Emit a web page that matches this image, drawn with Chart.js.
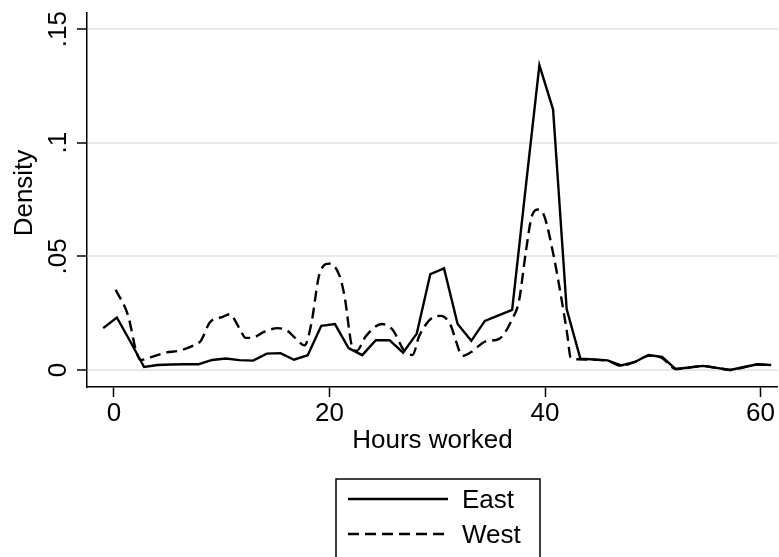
<!DOCTYPE html>
<html>
<head>
<meta charset="utf-8">
<script src="https://cdn.jsdelivr.net/npm/chart.js@4/dist/chart.umd.min.js"></script>
<style>
    html, body { margin: 0; padding: 0; background: #fff; }
    #wrap { width: 779px; height: 557px; position: relative; }
</style>
</head>
<body>
<div id="wrap"><canvas id="densityChart"></canvas></div>
<script>
// kdensity points
const eastHours = [-1.0, 0.27, 1.53, 2.80, 4.06, 5.33, 6.59, 7.86, 9.12, 10.39, 11.65, 12.92, 14.18, 15.45, 16.71, 17.98, 19.24, 20.51, 21.77, 23.04, 24.30, 25.57, 26.83, 28.10, 29.36, 30.63, 31.89, 33.16, 34.42, 35.69, 36.95, 38.22, 39.48, 40.75, 42.01, 43.28, 44.54, 45.81, 47.07, 48.34, 49.60, 50.87, 52.13, 53.40, 54.66, 55.93, 57.19, 58.46, 59.72, 60.99];
const eastDensity = [0.0184, 0.0231, 0.0124, 0.0013, 0.0022, 0.0024, 0.0025, 0.0025, 0.0044, 0.0050, 0.0043, 0.0041, 0.0072, 0.0074, 0.0045, 0.0065, 0.0194, 0.0202, 0.0096, 0.0065, 0.0131, 0.0131, 0.0076, 0.0160, 0.0422, 0.0447, 0.0202, 0.0128, 0.0216, 0.0240, 0.0264, 0.0808, 0.1342, 0.1146, 0.0268, 0.0050, 0.0046, 0.0042, 0.0020, 0.0035, 0.0066, 0.0057, 0.0004, 0.0011, 0.0018, 0.0009, 0.0000, 0.0013, 0.0025, 0.0022];

const westHours = [0.16, 1.32, 2.10, 2.50, 3.18, 4.88, 5.95, 7.50, 8.06, 8.89, 10.12, 10.74, 11.67, 12.22, 12.78, 13.98, 15.21, 16.11, 16.76, 17.69, 18.31, 19.07, 20.00, 20.93, 21.39, 22.16, 22.50, 23.40, 24.86, 25.86, 26.94, 27.71, 28.33, 29.72, 30.34, 31.27, 31.73, 32.34, 33.15, 34.51, 35.74, 36.97, 37.59, 38.21, 38.80, 39.38, 39.91, 40.83, 41.45, 42.06, 42.38, 42.84, 44.54, 45.81, 47.07, 48.34, 49.60, 50.87, 52.13, 53.40, 54.66, 55.93, 57.19, 58.46, 59.72, 60.99];
const westDensity = [0.0353, 0.0238, 0.0076, 0.0044, 0.0053, 0.0077, 0.0084, 0.0110, 0.0128, 0.0209, 0.0234, 0.0245, 0.0181, 0.0141, 0.0141, 0.0169, 0.0184, 0.0172, 0.0143, 0.0108, 0.0202, 0.0422, 0.0468, 0.0415, 0.0327, 0.0093, 0.0084, 0.0150, 0.0202, 0.0177, 0.0084, 0.0066, 0.0150, 0.0234, 0.0238, 0.0194, 0.0128, 0.0062, 0.0079, 0.0126, 0.0137, 0.0225, 0.0304, 0.0516, 0.0680, 0.0706, 0.0680, 0.0496, 0.0334, 0.0158, 0.0054, 0.0047, 0.0045, 0.0040, 0.0018, 0.0035, 0.0062, 0.0052, 0.0004, 0.0011, 0.0017, 0.0009, 0.0000, 0.0012, 0.0024, 0.0021];

const seriesNames = ['East', 'West'];
const xTickValues = [0, 20, 40, 60];
const yTickValues = [0, 0.05, 0.1, 0.15];
const yTickLabels = ['0', '.05', '.1', '.15'];
const xTitle = 'Hours worked';
const yTitle = 'Density';

const FONT = "'Liberation Sans', Arial, Helvetica, sans-serif";

function toPoints(xs, ys) {
    return xs.map((x, i) => ({ x: x, y: ys[i] }));
}

// y tick labels, y title and the boxed legend (Stata look)
const stataExtras = {
    id: 'stataExtras',
    afterDraw(chart) {
        const ctx = chart.ctx;
        const yScale = chart.scales.y;
        ctx.save();
        ctx.fillStyle = '#000';
        ctx.font = '26px ' + FONT;

        // rotated tick labels
        ctx.textAlign = 'center';
        ctx.textBaseline = 'alphabetic';
        yTickValues.forEach((v, i) => {
            const py = yScale.getPixelForValue(v);
            ctx.save();
            ctx.translate(66, py);
            ctx.rotate(-Math.PI / 2);
            ctx.fillText(yTickLabels[i], 0, 0);
            ctx.restore();
        });

        // axis title
        ctx.save();
        ctx.translate(32, 193);
        ctx.rotate(-Math.PI / 2);
        ctx.fillText(yTitle, 0, 0);
        ctx.restore();

        // legend box
        const box = { left: 336, top: 479, right: 540, bottom: 580 };
        ctx.lineWidth = 1.5;
        ctx.strokeStyle = '#000';
        ctx.setLineDash([]);
        ctx.strokeRect(box.left, box.top, box.right - box.left, box.bottom - box.top);

        ctx.textAlign = 'left';
        chart.data.datasets.forEach((ds, i) => {
            const ly = 499 + i * 35;
            ctx.beginPath();
            ctx.setLineDash(ds.borderDash || []);
            ctx.lineWidth = ds.borderWidth;
            ctx.moveTo(348, ly);
            ctx.lineTo(448, ly);
            ctx.stroke();
            ctx.setLineDash([]);
            ctx.fillText(ds.label, 462, ly + 9);
        });
        ctx.restore();
    }
};

const chart = new Chart(document.getElementById('densityChart').getContext('2d'), {
    type: 'line',
    data: {
        datasets: [{
            label: seriesNames[0],
            data: toPoints(eastHours, eastDensity),
            borderColor: '#000',
            borderWidth: 2.4,
            pointRadius: 0,
            tension: 0,
            fill: false
        }, {
            label: seriesNames[1],
            data: toPoints(westHours, westDensity),
            borderColor: '#000',
            borderWidth: 2.4,
            borderDash: [11, 6],
            pointRadius: 0,
            cubicInterpolationMode: 'monotone',
            fill: false
        }]
    },
    options: {
        responsive: true,
        maintainAspectRatio: false,
        animation: false,
        layout: { padding: { left: 77, top: 13, right: 0, bottom: 106 } },
        plugins: {
            legend: { display: false },
            tooltip: { enabled: false }
        },
        scales: {
            x: {
                type: 'linear',
                min: -2.5,
                max: 61.6,
                afterBuildTicks: (scale) => {
                    scale.ticks = xTickValues.map(v => ({ value: v }));
                },
                grid: {
                    color: 'rgba(0,0,0,0)',
                    tickColor: '#000',
                    tickLength: 10,
                    tickWidth: 1.5
                },
                border: { display: true, color: '#000', width: 1.5 },
                ticks: {
                    color: '#000',
                    padding: 4,
                    maxRotation: 0,
                    font: { family: FONT, size: 26, lineHeight: 1 },
                    callback: (v) => String(v)
                },
                title: {
                    display: true,
                    text: xTitle,
                    color: '#000',
                    padding: { top: 0, bottom: 0 },
                    font: { family: FONT, size: 26, lineHeight: 0.77 }
                }
            },
            y: {
                min: -0.0075,
                max: 0.1571,
                afterBuildTicks: (scale) => {
                    scale.ticks = yTickValues.map(v => ({ value: v }));
                },
                grid: {
                    color: '#e8e8e8',
                    lineWidth: 2,
                    tickColor: '#000',
                    tickLength: 10,
                    tickWidth: 1.5
                },
                border: { display: true, color: '#000', width: 1.5 },
                ticks: { display: false }
            }
        }
    },
    plugins: [stataExtras]
});
</script>
</body>
</html>
